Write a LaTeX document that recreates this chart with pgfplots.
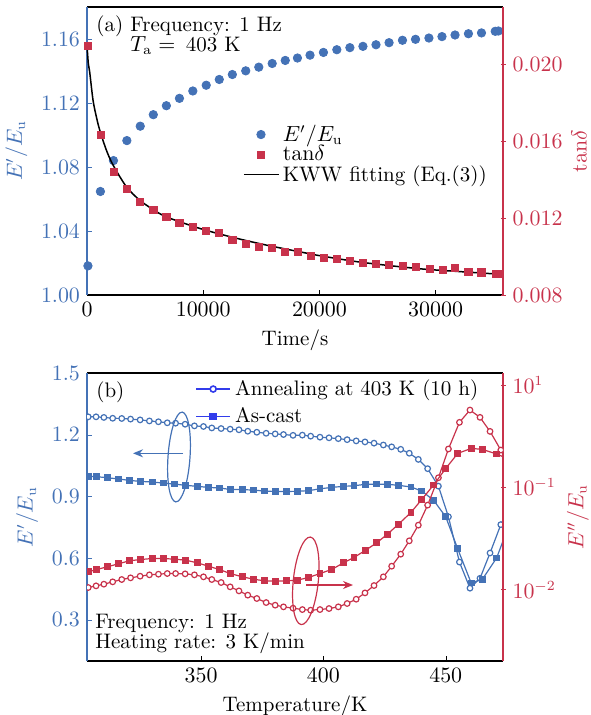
\documentclass[border=0pt]{standalone}
\usepackage{pgfplots}
\pgfplotsset{compat=1.18}
\usetikzlibrary{arrows.meta}
\definecolor{cblue}{RGB}{68,114,182}
\definecolor{cred}{RGB}{200,50,75}
\definecolor{lblue}{RGB}{50,60,235}
\begin{document}
\begin{tikzpicture}
\useasboundingbox (0,0) rectangle (295pt,-357.5pt);
\pgfplotsset{
  base/.style={scale only axis, width=208pt, height=144pt, anchor=north west,
    font=\fontsize{10.5}{12.6}\selectfont, tick align=inside, major tick length=2.5pt,
    /pgf/number format/1000 sep={}, scaled ticks=false,
    legend style={draw=none, fill=none, font=\fontsize{10.5}{12.6}\selectfont, legend cell align=left}},
}
% ---------------- top panel, left axis
\begin{axis}[base, at={(43.5pt,-3.5pt)},
  xmin=0, xmax=35800, ymin=1.0, ymax=1.18,
  axis x line*=box, axis y line*=left,
  x axis line style={black, line width=0.6pt}, y axis line style={cblue, line width=0.6pt},
  xtick={0,10000,20000,30000}, xtick pos=bottom,
  ytick={1.00,1.04,1.08,1.12,1.16},
  yticklabel style={text=cblue, /pgf/number format/.cd, fixed, fixed zerofill, precision=2},
  ytick style={cblue}, xtick style={black},
  xlabel={Time/s}, ylabel={$E'/E_{\mathrm{u}}$}, ylabel style={text=cblue},
  clip=false]
\addplot[only marks, mark=*, mark size=2.1pt, cblue] coordinates {
(80,1.0182) (1153,1.0647) (2277,1.0840) (3430,1.0965) (4582,1.1055) (5706,1.1127)
(6830,1.1183) (7954,1.1229) (9107,1.1275) (10259,1.1311) (11383,1.1347) (12507,1.1378)
(13660,1.1401) (14784,1.1424) (15937,1.1447) (17061,1.1466) (18110,1.1481) (19193,1.1499)
(20346,1.1516) (21499,1.1533) (22622,1.1546) (23746,1.1554) (24870,1.1564) (25994,1.1577)
(27147,1.1592) (28271,1.1598) (29424,1.1606) (30548,1.1615) (31672,1.1625) (32824,1.1633)
(33948,1.1638) (35130,1.1648) (35400,1.1650)};
\end{axis}
% ---------------- top panel, right axis
\begin{axis}[base, at={(43.5pt,-3.5pt)},
  xmin=0, xmax=35800, ymin=0.008, ymax=0.023,
  axis x line=none, axis y line*=right,
  y axis line style={cred, line width=0.6pt},
  ytick={0.008,0.012,0.016,0.020}, tick align=center,
  yticklabel style={text=cred, /pgf/number format/.cd, fixed, fixed zerofill, precision=3},
  ytick style={cred},
  ylabel={$\mathrm{tan}\delta$}, ylabel style={text=cred, at={(rel axis cs:1.183,0.5)}, anchor=center},
  clip=false,
  legend style={at={(0.36,0.62)}, anchor=north west, row sep=-3.3pt}]
\addlegendimage{only marks, mark=*, mark size=2.1pt, cblue}
\addlegendentry{$E'/E_{\mathrm{u}}$}
\addplot[only marks, mark=square*, mark size=1.8pt, cred] coordinates {
(80,0.02097) (1181,0.01632) (2305,0.01441) (3430,0.01354) (4582,0.01285) (5706,0.01245)
(6830,0.01205) (7954,0.01177) (9107,0.01154) (10259,0.01135) (11383,0.01123) (12507,0.01085)
(13660,0.01066) (14784,0.01050) (15937,0.01047) (17061,0.01026) (18150,0.01023) (19280,0.01003)
(20375,0.00995) (21499,0.00989) (22622,0.00979) (23746,0.00968) (24870,0.00963) (25994,0.00955)
(27205,0.00951) (28329,0.00948) (29481,0.00937) (30605,0.00932) (31672,0.00942) (32824,0.00922)
(33948,0.00918) (35187,0.00911) (35450,0.00910)};
\addlegendentry{$\mathrm{tan}\delta$}
\addplot[black, line width=0.75pt, smooth] coordinates {
(0,0.0210) (115,0.02005) (230,0.01962) (520,0.01814) (810,0.01727) (1100,0.01658)
(1670,0.01554) (2250,0.01476) (3400,0.01363) (4550,0.01293) (5700,0.01245) (6860,0.01206)
(9740,0.01146) (12620,0.01099) (15500,0.01059) (18390,0.01024) (20000,0.01005)
(23170,0.00974) (26050,0.00953) (28930,0.00935) (31810,0.00923) (35560,0.00908)};
\addlegendentry{KWW fitting (Eq.(3))}
\end{axis}
% ---------------- bottom panel, left axis
\begin{axis}[base, at={(43.5pt,-186.5pt)},
  xmin=303.4, xmax=473.4, ymin=0.1, ymax=1.5,
  axis x line*=box, axis y line*=left,
  x axis line style={black, line width=0.6pt}, y axis line style={cblue, line width=0.6pt},
  xtick={350,400,450}, xtick pos=bottom,
  ytick={0.3,0.6,0.9,1.2,1.5},
  yticklabel style={text=cblue, /pgf/number format/.cd, fixed, fixed zerofill, precision=1},
  ytick style={cblue}, xtick style={black},
  xlabel={Temperature/K}, ylabel={$E'/E_{\mathrm{u}}$}, ylabel style={text=cblue},
  clip marker paths=true]
\addplot[cblue, line width=0.6pt, mark=*, mark size=1.4pt, mark options={fill=white}] coordinates {
(303.9,1.287) (307.1,1.287) (310.3,1.284) (313.9,1.280) (317.6,1.279) (321.2,1.276)
(325.1,1.272) (328.9,1.267) (332.6,1.263) (336.2,1.258) (339.6,1.256) (343.5,1.251)
(347.3,1.243) (351.0,1.240) (354.4,1.233) (358.2,1.230) (361.9,1.227) (365.5,1.224)
(369.1,1.217) (372.8,1.212) (376.6,1.207) (380.3,1.204) (383.7,1.201) (387.6,1.197)
(391.4,1.198) (394.8,1.193) (398.6,1.188) (402.3,1.185) (406.1,1.181) (409.7,1.176)
(413.4,1.170) (417.0,1.165) (420.7,1.159) (424.5,1.150) (427.9,1.141) (431.6,1.129)
(435.1,1.110) (438.8,1.080) (442.6,1.035) (447.0,0.950) (451.1,0.801) (455.6,0.581)
(459.9,0.454) (464.0,0.502) (468.1,0.625) (472.5,0.763) (476.5,0.860)};
\addplot[cblue, line width=0.6pt, mark=square*, mark size=1.4pt] coordinates {
(303.9,0.998) (307.3,0.996) (311.7,0.991) (316.2,0.985) (320.7,0.978) (325.3,0.973)
(330.1,0.970) (334.6,0.965) (339.1,0.960) (343.7,0.954) (348.5,0.949) (353.0,0.944)
(357.5,0.941) (361.9,0.934) (366.9,0.933) (371.4,0.931) (375.9,0.926) (380.3,0.924)
(385.0,0.924) (389.3,0.925) (393.9,0.928) (398.6,0.937) (403.4,0.944) (408.2,0.949)
(412.5,0.952) (417.3,0.959) (421.8,0.960) (426.2,0.959) (430.7,0.954) (435.8,0.946)
(440.2,0.926) (445.0,0.882) (450.0,0.801) (454.9,0.645) (460.4,0.479) (465.0,0.498)
(470.8,0.601) (475.5,0.750)};
\end{axis}
% ---------------- bottom panel, right axis
\begin{axis}[base, at={(43.5pt,-186.5pt)},
  xmin=303.4, xmax=473.4, ymode=log, ymin=0.002, ymax=1.31,
  axis x line=none, axis y line*=right,
  y axis line style={cred, line width=0.6pt},
  ytick={1,0.1,0.01}, yticklabels={$10^{1}$,$10^{-1}$,$10^{-2}$}, yminorticks=false,
  tick align=center,
  yticklabel style={text=cred}, ytick style={cred},
  ylabel={$E''/E_{\mathrm{u}}$}, ylabel style={text=cred, at={(rel axis cs:1.18,0.5)}, anchor=center},
  clip marker paths=true,
  legend style={at={(0.245,1.006)}, anchor=north west, row sep=0.5pt}]
\addlegendimage{lblue, line width=0.8pt, mark=*, mark size=1.5pt, mark options={fill=white}}
\addlegendentry{Annealing at 403 K (10 h)}
\addlegendimage{lblue, line width=0.8pt, mark=square*, mark size=1.5pt}
\addlegendentry{As-cast}
\addplot[forget plot, cred, line width=0.6pt, mark=*, mark size=1.4pt, mark options={fill=white}] coordinates {
(303.9,0.01046) (307.1,0.01086) (310.3,0.01128) (313.9,0.01189) (317.6,0.01253) (321.2,0.01301)
(325.1,0.01350) (328.9,0.01392) (332.6,0.01412) (336.2,0.01434) (339.6,0.01434) (343.5,0.01423)
(347.3,0.01392) (351.0,0.01331) (354.4,0.01253) (358.2,0.01171) (361.9,0.01062) (365.5,0.00970)
(369.1,0.00881) (372.8,0.00817) (376.6,0.00746) (380.3,0.00703) (383.7,0.00677) (387.6,0.00657)
(391.4,0.00637) (394.8,0.00628) (398.6,0.00637) (402.3,0.00652) (406.1,0.00677) (409.7,0.00730)
(413.4,0.00804) (417.0,0.00927) (420.7,0.01094) (424.5,0.01331) (427.9,0.01691) (431.6,0.02217)
(435.1,0.02995) (438.8,0.04262) (442.6,0.06691) (447.0,0.1239) (451.1,0.2368) (455.6,0.4312)
(459.9,0.5691) (464.0,0.4827) (468.1,0.3518) (472.5,0.2312) (476.5,0.150)};
\addplot[forget plot, cred, line width=0.6pt, mark=square*, mark size=1.4pt] coordinates {
(303.9,0.01489) (307.3,0.01570) (311.7,0.01667) (316.2,0.01784) (320.7,0.01909) (325.3,0.01966)
(330.1,0.02011) (334.6,0.02011) (339.1,0.01981) (343.7,0.01937) (348.5,0.01824) (353.0,0.01691)
(357.5,0.01570) (361.9,0.01434) (366.9,0.01331) (371.4,0.01263) (375.9,0.01216) (380.3,0.01207)
(385.0,0.01216) (389.3,0.01234) (393.9,0.01310) (398.6,0.01434) (403.4,0.01570) (408.2,0.01824)
(412.5,0.02057) (417.3,0.02427) (421.8,0.02864) (426.2,0.03482) (430.7,0.04356) (435.8,0.05675)
(440.2,0.07606) (445.0,0.1050) (450.0,0.1527) (454.9,0.2143) (460.4,0.2399) (465.0,0.2346)
(470.8,0.2112) (475.5,0.190)};
\end{axis}
% ---------------- annotations (picture pixels)
\begin{scope}[x=0.5pt, y=-0.5pt, font=\fontsize{10.5}{12.6}\selectfont]
\node[anchor=base west, inner sep=0pt] at (96,31.7) {(a)};
\node[anchor=base west, inner sep=0pt] at (130,31.7) {Frequency: 1 Hz};
\node[anchor=base west, inner sep=0pt] at (130,51.7) {$T_{\mathrm{a}}=$\, 403 K};
\node[anchor=base west, inner sep=0pt] at (96,397) {(b)};
\node[anchor=base west, inner sep=0pt] at (95,628) {Frequency: 1 Hz};
\node[anchor=base west, inner sep=0pt] at (95,648) {Heating rate: 3 K/min};
\draw[cblue, line width=0.6pt, rotate around={-4:(179,457)}] (179,457) ellipse [x radius=11, y radius=45];
\draw[cblue, line width=0.6pt, -{Stealth[length=5pt, width=4pt]}] (183,453.3) -- (133,453.3);
\draw[cred, line width=0.6pt, rotate around={-6:(305.8,580.8)}] (305.8,580.8) ellipse [x radius=12.5, y radius=44];
\draw[cred, line width=0.6pt, -{Stealth[length=5pt, width=4pt]}] (306,585) -- (353,585);
\end{scope}
\end{tikzpicture}
\end{document}
